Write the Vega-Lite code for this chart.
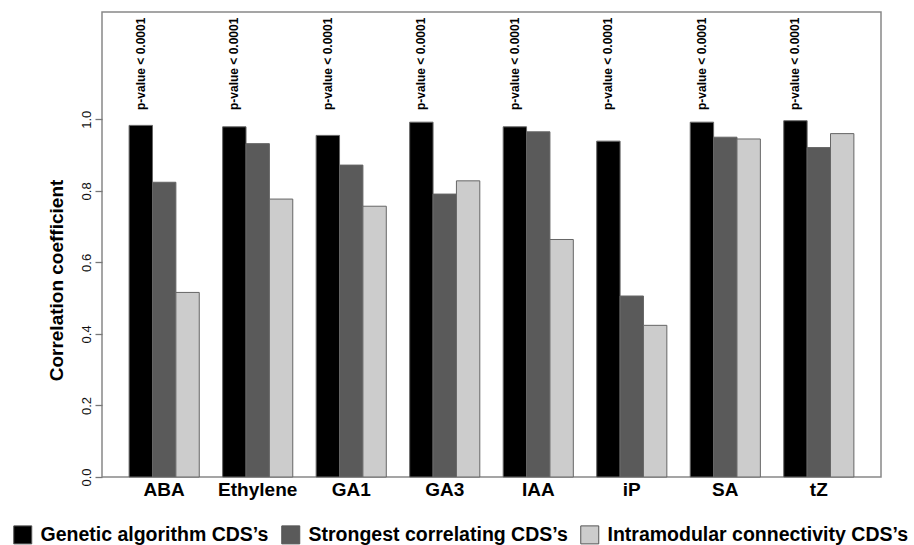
{
  "$schema": "https://vega.github.io/schema/vega-lite/v6.json",
  "width": 779,
  "height": 465,
  "autosize": {"type": "none"},
  "padding": {"left": 102, "top": 12, "right": 33, "bottom": 68},
  "background": "white",
  "config": {
    "font": "Liberation Sans",
    "view": {"stroke": "#888888", "strokeWidth": 1.5},
    "axis": {"grid": false}
  },
  "datasets": {
    "bars": [
      {"hormone": "ABA", "series": "Genetic algorithm CDS’s", "r": 0.983},
      {"hormone": "ABA", "series": "Strongest correlating CDS’s", "r": 0.824},
      {"hormone": "ABA", "series": "Intramodular connectivity CDS’s", "r": 0.516},
      {"hormone": "Ethylene", "series": "Genetic algorithm CDS’s", "r": 0.979},
      {"hormone": "Ethylene", "series": "Strongest correlating CDS’s", "r": 0.932},
      {"hormone": "Ethylene", "series": "Intramodular connectivity CDS’s", "r": 0.777},
      {"hormone": "GA1", "series": "Genetic algorithm CDS’s", "r": 0.955},
      {"hormone": "GA1", "series": "Strongest correlating CDS’s", "r": 0.872},
      {"hormone": "GA1", "series": "Intramodular connectivity CDS’s", "r": 0.757},
      {"hormone": "GA3", "series": "Genetic algorithm CDS’s", "r": 0.992},
      {"hormone": "GA3", "series": "Strongest correlating CDS’s", "r": 0.791},
      {"hormone": "GA3", "series": "Intramodular connectivity CDS’s", "r": 0.828},
      {"hormone": "IAA", "series": "Genetic algorithm CDS’s", "r": 0.979},
      {"hormone": "IAA", "series": "Strongest correlating CDS’s", "r": 0.965},
      {"hormone": "IAA", "series": "Intramodular connectivity CDS’s", "r": 0.664},
      {"hormone": "iP", "series": "Genetic algorithm CDS’s", "r": 0.939},
      {"hormone": "iP", "series": "Strongest correlating CDS’s", "r": 0.506},
      {"hormone": "iP", "series": "Intramodular connectivity CDS’s", "r": 0.424},
      {"hormone": "SA", "series": "Genetic algorithm CDS’s", "r": 0.992},
      {"hormone": "SA", "series": "Strongest correlating CDS’s", "r": 0.950},
      {"hormone": "SA", "series": "Intramodular connectivity CDS’s", "r": 0.945},
      {"hormone": "tZ", "series": "Genetic algorithm CDS’s", "r": 0.996},
      {"hormone": "tZ", "series": "Strongest correlating CDS’s", "r": 0.921},
      {"hormone": "tZ", "series": "Intramodular connectivity CDS’s", "r": 0.960}
    ],
    "notes": [
      {"hormone": "ABA", "series": "Genetic algorithm CDS’s", "pos": 1.026, "note": "p-value < 0.0001"},
      {"hormone": "Ethylene", "series": "Genetic algorithm CDS’s", "pos": 1.026, "note": "p-value < 0.0001"},
      {"hormone": "GA1", "series": "Genetic algorithm CDS’s", "pos": 1.026, "note": "p-value < 0.0001"},
      {"hormone": "GA3", "series": "Genetic algorithm CDS’s", "pos": 1.026, "note": "p-value < 0.0001"},
      {"hormone": "IAA", "series": "Genetic algorithm CDS’s", "pos": 1.026, "note": "p-value < 0.0001"},
      {"hormone": "iP", "series": "Genetic algorithm CDS’s", "pos": 1.026, "note": "p-value < 0.0001"},
      {"hormone": "SA", "series": "Genetic algorithm CDS’s", "pos": 1.026, "note": "p-value < 0.0001"},
      {"hormone": "tZ", "series": "Genetic algorithm CDS’s", "pos": 1.026, "note": "p-value < 0.0001"}
    ]
  },
  "encoding": {
    "x": {
      "field": "hormone",
      "type": "nominal",
      "sort": ["ABA", "Ethylene", "GA1", "GA3", "IAA", "iP", "SA", "tZ"],
      "scale": {"paddingInner": 0.25, "paddingOuter": 0.29},
      "axis": {
        "title": null,
        "ticks": false,
        "domain": false,
        "labelAngle": 0,
        "labelFontSize": 19,
        "labelFontWeight": "bold",
        "labelColor": "#000000",
        "labelBaseline": "alphabetic",
        "labelPadding": 18
      }
    },
    "xOffset": {
      "field": "series",
      "type": "nominal",
      "scale": {"domain": ["Genetic algorithm CDS’s", "Strongest correlating CDS’s", "Intramodular connectivity CDS’s"]}
    }
  },
  "layer": [
    {
      "data": {"name": "bars"},
      "mark": {"type": "bar", "stroke": "#666666", "strokeWidth": 1},
      "encoding": {
        "y": {
          "field": "r",
          "type": "quantitative",
          "scale": {"domain": [0, 1.3], "nice": false, "zero": true},
          "axis": {
            "title": "Correlation coefficient",
            "titleFontSize": 19,
            "titleFontWeight": "bold",
            "titleColor": "#000000",
            "titleAngle": 270,
            "titleX": -40,
            "titleY": 268,
            "titleAlign": "center",
            "titleBaseline": "alphabetic",
            "values": [0, 0.2, 0.4, 0.6, 0.8, 1.0],
            "format": ".1f",
            "domain": false,
            "tickSize": 7,
            "tickColor": "#777777",
            "tickWidth": 1.3,
            "labelAngle": 270,
            "labelAlign": "center",
            "labelBaseline": "alphabetic",
            "labelPadding": 5,
            "labelFontSize": 13,
            "labelColor": "#111111"
          }
        },
        "color": {
          "field": "series",
          "type": "nominal",
          "scale": {
            "domain": ["Genetic algorithm CDS’s", "Strongest correlating CDS’s", "Intramodular connectivity CDS’s"],
            "range": ["#000000", "#5a5a5a", "#cccccc"]
          },
          "legend": {
            "title": null,
            "orient": "none",
            "direction": "horizontal",
            "legendX": -89,
            "legendY": 513,
            "padding": 0,
            "symbolType": "square",
            "symbolSize": 324,
            "symbolStrokeColor": "#555555",
            "symbolStrokeWidth": 1,
            "labelFontSize": 19.5,
            "labelFontWeight": "bold",
            "labelColor": "#000000",
            "labelOffset": 8,
            "columnPadding": 10,
            "labelLimit": 400
          }
        }
      }
    },
    {
      "data": {"name": "notes"},
      "mark": {"type": "text", "angle": 270, "align": "left", "baseline": "middle", "fontSize": 12, "fontWeight": "bold", "color": "#000000"},
      "encoding": {
        "y": {"field": "pos", "type": "quantitative"},
        "text": {"field": "note"}
      }
    }
  ]
}
